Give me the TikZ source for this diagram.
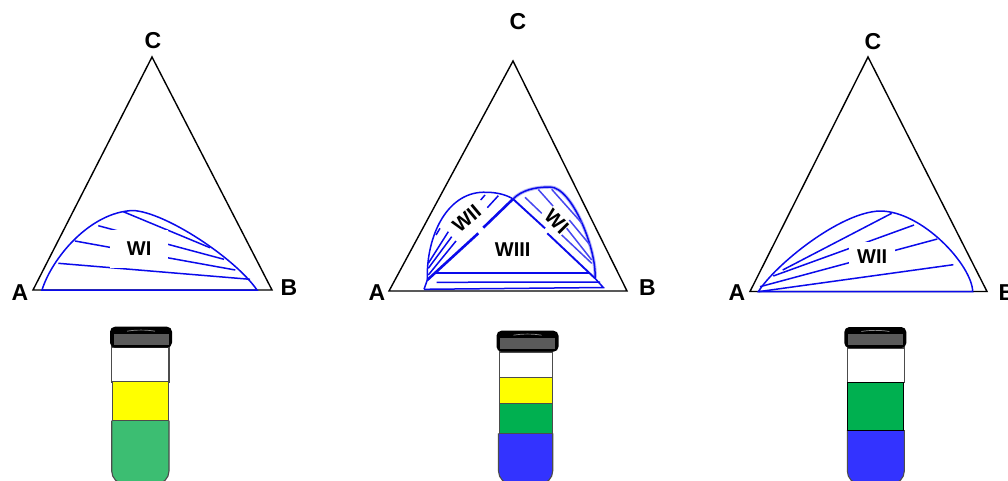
\documentclass[tikz,border=0pt]{standalone}
\usepackage{fontspec}
\setmainfont{Liberation Sans}
\definecolor{phaseblue}{RGB}{10,10,235}
\definecolor{capgray}{RGB}{90,90,90}
\definecolor{palegreen}{RGB}{60,190,114}
\definecolor{deepgreen}{RGB}{0,176,80}
\definecolor{lowerblue}{RGB}{51,51,255}
\definecolor{upperyellow}{RGB}{255,255,0}
\tikzset{
	side/.style={draw=black,line width=1.4pt,line join=miter},
	lobe/.style={draw=phaseblue,line width=1.5pt},
	tie/.style={draw=phaseblue,line width=1.5pt},
	heavy/.style={draw=phaseblue,line width=2.6pt},
	corner/.style={font=\fontsize{23}{23}\bfseries\selectfont,inner sep=0pt},
	region/.style={font=\fontsize{20}{20}\bfseries\selectfont,inner sep=0pt},
	wall/.style={draw=black!70,line width=1.1pt},
	liquid/.style={draw=black!70,line width=.9pt},
}
% screw cap of a tube, given its upper left corner
\newcommand{\tubecap}[2]{
	\fill[black,rounded corners=5pt] (#1,#2) rectangle ++(62,21);
	\fill[capgray] (#1+3.5,#2+7) rectangle ++(55,11);
	\draw[black!45,line width=.7pt] (#1+17,#2+4.5) .. controls (#1+25,#2+3) and (#1+37,#2+3) .. (#1+45,#2+4.5);
}

\begin{document}
\begin{tikzpicture}[x=1pt,y=-1pt]
	\useasboundingbox (0,0) rectangle (1008,480);
	\fill[white] (0,0) rectangle (1008,480);

	% left triangle
	\coordinate (A1) at (33,290); \coordinate (B1) at (272,290); \coordinate (C1) at (152,57);
	\draw[side] (A1) -- (B1) -- (C1) -- cycle;
	\node[corner] (a1) at (20,293) {A};
	\node[corner] (b1) at (289,288) {B};
	\node[corner] (c1) at (153,41) {C};
	\draw[tie] (123.3,211.7) -- (210,247.7);
	\draw[tie] (98.3,225.7) -- (224,259.3);
	\draw[tie] (75,241) -- (235.3,270);
	\draw[tie] (58.3,263.3) -- (250,279.3);
	\node[region,fill=white,minimum width=58.5pt,minimum height=38pt] (wi1) at (139.2,249) {WI};
	\draw[lobe] (42,290) .. controls (52,258) and (90,212) .. (133,210.5) .. controls (165,212) and (235,258) .. (257,290) -- cycle;

	% middle triangle
	\coordinate (A2) at (389,291); \coordinate (B2) at (627,291); \coordinate (C2) at (513,61);
	\draw[side] (A2) -- (B2) -- (C2) -- cycle;
	\node[corner] (a2) at (377,293) {A};
	\node[corner] (b2) at (647.5,288) {B};
	\node[corner] (c2) at (518,22) {C};
	\coordinate (P2) at (427.3,280); \coordinate (Q2) at (595,278.3); \coordinate (R2) at (513,199);
	\draw[lobe] (P2) .. controls (426,235) and (448,190) .. (487,192.3) .. controls (497,192.3) and (507,195) .. (R2);
	\draw[phaseblue!30,line width=3.4pt] (R2) .. controls (522,190) and (535,187) .. (550,187) .. controls (572,187) and (597,250) .. (Q2);
	\draw[lobe] (R2) .. controls (522,190) and (535,187) .. (550,187) .. controls (572,187) and (597,250) .. (Q2);
	\draw[heavy] (R2) -- (483.3,227.7);
	\draw[heavy] (478.3,233.3) -- (P2);
	\draw[heavy,line width=1.9pt] (R2) -- (545,228.3);
	\draw[heavy,line width=1.9pt] (547.3,233.3) -- (Q2);
	\draw[heavy] (435,273) -- (590,273);
	\draw[tie] (436.7,282.3) -- (600,282);
	\draw[tie] (424,289.3) -- (603.3,287.5) -- (Q2);
	\draw[tie] (424,289.3) -- (P2);
	% ties on the WII side
	\draw[tie] (485,195) -- (480.7,200);
	\draw[tie] (498.3,195.7) -- (487.3,207.7);
	\draw[tie] (440,228.3) -- (436,235);
	\draw[tie] (448.3,231.7) -- (428.3,263.3);
	\draw[tie] (451.7,236.7) -- (428.3,268.3);
	\draw[tie] (456,241) -- (428.3,275);
	% ties on the WI side
	\draw[tie,phaseblue!75] (525,197.3) -- (541.7,213.3);
	\draw[tie,phaseblue!75] (538.3,189.5) -- (553,206);
	\draw[tie,phaseblue!75] (551.7,189.3) -- (581.7,223);
	\draw[tie,phaseblue!75] (569.3,220) -- (590,245);
	\draw[tie,phaseblue!75] (566.7,228.3) -- (591.7,260);
	\draw[tie,phaseblue!75] (561.7,235) -- (591.7,263.3);
	\node[region,rotate=40] (wii2) at (466.7,218.3) {WII};
	\node[region,rotate=-45] (wi2) at (556.7,221.7) {WI};
	\node[region] (wiii2) at (512.7,250) {WIII};

	% right triangle
	\coordinate (A3) at (750,291.5); \coordinate (B3) at (987,291.5); \coordinate (C3) at (868,57);
	\draw[side] (A3) -- (B3) -- (C3) -- cycle;
	\node[corner] (a3) at (737,293) {A};
	\node[corner] (b3) at (1007,293) {B};
	\node[corner] (c3) at (873,42) {C};
	\draw[tie] (782.7,270) -- (891.7,213.3);
	\draw[tie] (773.3,276) -- (914,225);
	\draw[tie] (760,286.7) -- (937.3,239);
	\node[region,fill=white,minimum width=45.7pt,minimum height=30pt] (wii3) at (872.2,256.7) {WII};
	\draw[tie] (758.3,291.7) -- (953.3,264.7);
	\draw[lobe] (758.3,291.7) .. controls (775,265) and (840,212) .. (880,211) .. controls (922,211) and (972,265) .. (972.7,291.7) -- cycle;

	% tube with two layers
	\draw[wall] (111.7,347) rectangle (169,382);
	\draw[wall,fill=palegreen,rounded corners=13pt] (111.7,420.7) -- (111.7,484) -- (169,484) -- (169,420.7);
	\draw[liquid,fill=upperyellow] (112,381.7) rectangle (168.3,420.7);
	\tubecap{110}{326.7}

	% tube with three layers
	\draw[wall] (499.5,352) rectangle (552.7,378);
	\draw[wall,fill=lowerblue,rounded corners=13pt] (498.5,433.3) -- (498.5,484) -- (552.7,484) -- (552.7,433.3);
	\draw[liquid,fill=deepgreen] (499.5,403.3) rectangle (552,433.3);
	\draw[liquid,fill=upperyellow] (499.5,377.7) rectangle (552,403.3);
	\tubecap{496.5}{330.7}

	% tube with two layers, lower one blue
	\draw[wall] (847.3,348) rectangle (904.3,382.5);
	\draw[wall,fill=lowerblue,rounded corners=13pt] (847.3,430) -- (847.3,484) -- (904.3,484) -- (904.3,430);
	\draw[liquid,draw=black,fill=deepgreen] (847.8,382.3) rectangle (903.8,430);
	\tubecap{844.3}{327}
\end{tikzpicture}
\end{document}
